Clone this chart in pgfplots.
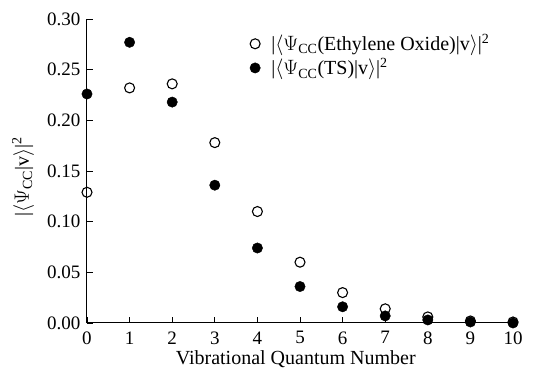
\documentclass[border=0pt]{standalone}
\usepackage{pgfplots}
\pgfplotsset{compat=1.18}
\usepackage{fontspec}
\setmainfont{Liberation Serif}

\pgfplotstableread{
v  eo     ts
0  0.129  0.226
1  0.232  0.277
2  0.236  0.218
3  0.178  0.136
4  0.110  0.074
5  0.060  0.036
6  0.030  0.016
7  0.014  0.007
8  0.006  0.003
9  0.002  0.001
10 0.001  0.000
}\overlaps

\newcommand{\psicc}{$\langle\Psi$\textsubscript{CC}}
\newcommand{\bigfont}{\fontsize{19}{22}\selectfont}
\newcommand{\labelfont}{\fontsize{20}{23}\selectfont}

\begin{document}
\bigfont
\begin{tikzpicture}
% fixed frame around the plot area
\path[use as bounding box] (-87pt,-56pt) rectangle (454pt,323pt);
\begin{axis}[
  scale only axis,
  width=426pt, height=304pt,
  xmin=0, xmax=10, ymin=0, ymax=0.30,
  axis x line=bottom, axis y line=left,
  axis line style={-, line width=1pt},
  tick align=inside,
  major tick length=6pt,
  tick style={black, line width=0.9pt},
  xtick={0,...,10},
  ytick={0,0.05,...,0.30},
  /pgf/number format/assume math mode=true,
  yticklabel style={/pgf/number format/fixed, /pgf/number format/fixed zerofill, /pgf/number format/precision=2},
  ticklabel style={font=\bigfont},
  xticklabel style={yshift=-2pt},
  xlabel={Vibrational Quantum Number},
  ylabel={|\psicc|v$\rangle$|\textsuperscript{2}},
  label style={font=\labelfont},
  xlabel style={at={(axis description cs:0.49,-0.118)}, anchor=center},
  ylabel style={at={(axis description cs:-0.150,0.48)}, anchor=center},
  clip=false,
  legend style={at={(0.382,0.958)}, anchor=north west, draw=none, fill=none,
    font=\labelfont, row sep=0.5pt, column sep=9pt, inner sep=0pt},
  legend cell align=left,
]
\addplot[only marks, mark=o, mark size=5pt, line width=1.1pt, black, mark options={fill=white}]
  table[x=v, y=eo] {\overlaps};
\addlegendentry{|\psicc(Ethylene Oxide)|v$\rangle$|\textsuperscript{2}}
\addplot[only marks, mark=*, mark size=5.2pt, black]
  table[x=v, y=ts] {\overlaps};
\addlegendentry{|\psicc(TS)|v$\rangle$|\textsuperscript{2}}
\end{axis}
\end{tikzpicture}
\end{document}
